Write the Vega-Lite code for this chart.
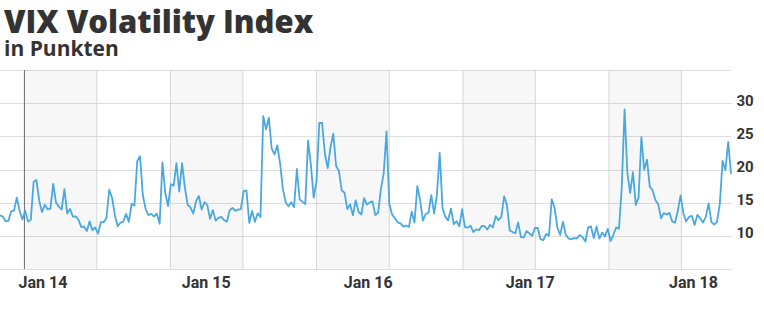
{
  "$schema": "https://vega.github.io/schema/vega-lite/v6.json",
  "width": 731,
  "height": 199,
  "autosize": {"type": "none"},
  "padding": {"left": 0, "top": 70, "right": 33, "bottom": 66},
  "background": "white",
  "config": {"view": {"stroke": null}},
  "title": {
    "text": "VIX Volatility Index",
    "subtitle": "in Punkten",
    "anchor": "start",
    "frame": "group",
    "font": "Open Sans",
    "fontSize": 31,
    "fontWeight": 800,
    "color": "#333333",
    "subtitleFont": "Open Sans",
    "subtitleFontSize": 21,
    "subtitleFontWeight": "bold",
    "subtitleColor": "#333333",
    "subtitlePadding": -1,
    "offset": 9,
    "dx": 4
  },
  "datasets": {
    "bands": [
      {"d": "2014-01-01", "e": "2014-07-01"},
      {"d": "2015-01-01", "e": "2015-07-01"},
      {"d": "2016-01-01", "e": "2016-07-01"},
      {"d": "2017-01-01", "e": "2017-07-01"},
      {"d": "2018-01-01", "e": "2018-07-01"}
    ],
    "vgrid": [
      {"d": "2014-07-01"}, {"d": "2015-01-01"}, {"d": "2015-07-01"},
      {"d": "2016-01-01"}, {"d": "2016-07-01"}, {"d": "2017-01-01"},
      {"d": "2017-07-01"}, {"d": "2018-01-01"}, {"d": "2018-07-01"}
    ],
    "start": [{"d": "2014-01-01"}],
    "vix": [
      {"d": "2013-11-01", "v": 13.09}, {"d": "2013-11-08", "v": 12.90}, {"d": "2013-11-15", "v": 12.19},
      {"d": "2013-11-22", "v": 12.26}, {"d": "2013-11-29", "v": 13.70}, {"d": "2013-12-06", "v": 13.79},
      {"d": "2013-12-13", "v": 15.76}, {"d": "2013-12-20", "v": 13.79}, {"d": "2013-12-27", "v": 12.46},
      {"d": "2014-01-03", "v": 13.76}, {"d": "2014-01-10", "v": 12.14}, {"d": "2014-01-17", "v": 12.44},
      {"d": "2014-01-24", "v": 18.14}, {"d": "2014-01-31", "v": 18.41}, {"d": "2014-02-07", "v": 15.29},
      {"d": "2014-02-14", "v": 13.57}, {"d": "2014-02-21", "v": 14.68}, {"d": "2014-02-28", "v": 14.00},
      {"d": "2014-03-07", "v": 14.11}, {"d": "2014-03-14", "v": 17.82}, {"d": "2014-03-21", "v": 15.00},
      {"d": "2014-03-28", "v": 14.41}, {"d": "2014-04-04", "v": 13.96}, {"d": "2014-04-11", "v": 17.03},
      {"d": "2014-04-18", "v": 13.36}, {"d": "2014-04-25", "v": 14.06}, {"d": "2014-05-02", "v": 12.91},
      {"d": "2014-05-09", "v": 12.92}, {"d": "2014-05-16", "v": 12.44}, {"d": "2014-05-23", "v": 11.36},
      {"d": "2014-05-30", "v": 11.40}, {"d": "2014-06-06", "v": 10.73}, {"d": "2014-06-13", "v": 12.18},
      {"d": "2014-06-20", "v": 10.85}, {"d": "2014-06-27", "v": 11.26}, {"d": "2014-07-04", "v": 10.32},
      {"d": "2014-07-11", "v": 12.08}, {"d": "2014-07-18", "v": 12.06}, {"d": "2014-07-25", "v": 12.69},
      {"d": "2014-08-01", "v": 16.95}, {"d": "2014-08-08", "v": 15.77}, {"d": "2014-08-15", "v": 13.15},
      {"d": "2014-08-22", "v": 11.47}, {"d": "2014-08-29", "v": 11.98}, {"d": "2014-09-05", "v": 12.09},
      {"d": "2014-09-12", "v": 13.31}, {"d": "2014-09-19", "v": 12.11}, {"d": "2014-09-26", "v": 14.85},
      {"d": "2014-10-03", "v": 14.55}, {"d": "2014-10-10", "v": 21.24}, {"d": "2014-10-17", "v": 21.99},
      {"d": "2014-10-24", "v": 16.11}, {"d": "2014-10-31", "v": 14.03}, {"d": "2014-11-07", "v": 13.12},
      {"d": "2014-11-14", "v": 13.31}, {"d": "2014-11-21", "v": 12.90}, {"d": "2014-11-28", "v": 13.33},
      {"d": "2014-12-05", "v": 11.82}, {"d": "2014-12-12", "v": 21.08}, {"d": "2014-12-19", "v": 16.49},
      {"d": "2014-12-26", "v": 14.50}, {"d": "2015-01-02", "v": 17.79}, {"d": "2015-01-09", "v": 17.55},
      {"d": "2015-01-16", "v": 20.95}, {"d": "2015-01-23", "v": 16.66}, {"d": "2015-01-30", "v": 20.97},
      {"d": "2015-02-06", "v": 17.29}, {"d": "2015-02-13", "v": 14.69}, {"d": "2015-02-20", "v": 14.30},
      {"d": "2015-02-27", "v": 13.34}, {"d": "2015-03-06", "v": 15.20}, {"d": "2015-03-13", "v": 16.00},
      {"d": "2015-03-20", "v": 13.97}, {"d": "2015-03-27", "v": 15.07}, {"d": "2015-04-03", "v": 14.67},
      {"d": "2015-04-10", "v": 12.58}, {"d": "2015-04-17", "v": 13.89}, {"d": "2015-04-24", "v": 12.29},
      {"d": "2015-05-01", "v": 12.70}, {"d": "2015-05-08", "v": 12.86}, {"d": "2015-05-15", "v": 12.38},
      {"d": "2015-05-22", "v": 12.13}, {"d": "2015-05-29", "v": 13.84}, {"d": "2015-06-05", "v": 14.21},
      {"d": "2015-06-12", "v": 13.78}, {"d": "2015-06-19", "v": 13.96}, {"d": "2015-06-26", "v": 14.02},
      {"d": "2015-07-03", "v": 16.79}, {"d": "2015-07-10", "v": 16.83}, {"d": "2015-07-17", "v": 11.95},
      {"d": "2015-07-24", "v": 13.74}, {"d": "2015-07-31", "v": 12.12}, {"d": "2015-08-07", "v": 13.39},
      {"d": "2015-08-14", "v": 12.83}, {"d": "2015-08-21", "v": 28.03}, {"d": "2015-08-28", "v": 26.05},
      {"d": "2015-09-04", "v": 27.80}, {"d": "2015-09-11", "v": 23.20}, {"d": "2015-09-18", "v": 22.28},
      {"d": "2015-09-25", "v": 23.62}, {"d": "2015-10-02", "v": 20.94}, {"d": "2015-10-09", "v": 17.08},
      {"d": "2015-10-16", "v": 15.05}, {"d": "2015-10-23", "v": 14.46}, {"d": "2015-10-30", "v": 15.07},
      {"d": "2015-11-06", "v": 14.33}, {"d": "2015-11-13", "v": 20.08}, {"d": "2015-11-20", "v": 15.47},
      {"d": "2015-11-27", "v": 15.12}, {"d": "2015-12-04", "v": 14.81}, {"d": "2015-12-11", "v": 24.39},
      {"d": "2015-12-18", "v": 20.70}, {"d": "2015-12-25", "v": 15.74}, {"d": "2016-01-01", "v": 18.21},
      {"d": "2016-01-08", "v": 27.01}, {"d": "2016-01-15", "v": 27.02}, {"d": "2016-01-22", "v": 22.34},
      {"d": "2016-01-29", "v": 20.20}, {"d": "2016-02-05", "v": 23.38}, {"d": "2016-02-12", "v": 25.40},
      {"d": "2016-02-19", "v": 20.53}, {"d": "2016-02-26", "v": 19.81}, {"d": "2016-03-04", "v": 16.86},
      {"d": "2016-03-11", "v": 16.50}, {"d": "2016-03-18", "v": 14.02}, {"d": "2016-03-25", "v": 14.74},
      {"d": "2016-04-01", "v": 13.10}, {"d": "2016-04-08", "v": 15.36}, {"d": "2016-04-15", "v": 13.62},
      {"d": "2016-04-22", "v": 13.22}, {"d": "2016-04-29", "v": 15.70}, {"d": "2016-05-06", "v": 14.72},
      {"d": "2016-05-13", "v": 15.04}, {"d": "2016-05-20", "v": 15.20}, {"d": "2016-05-27", "v": 13.12},
      {"d": "2016-06-03", "v": 13.47}, {"d": "2016-06-10", "v": 17.03}, {"d": "2016-06-17", "v": 19.41},
      {"d": "2016-06-24", "v": 25.76}, {"d": "2016-07-01", "v": 14.77}, {"d": "2016-07-08", "v": 13.20},
      {"d": "2016-07-15", "v": 12.67}, {"d": "2016-07-22", "v": 12.02}, {"d": "2016-07-29", "v": 11.87},
      {"d": "2016-08-05", "v": 11.39}, {"d": "2016-08-12", "v": 11.55}, {"d": "2016-08-19", "v": 11.34},
      {"d": "2016-08-26", "v": 13.65}, {"d": "2016-09-02", "v": 11.98}, {"d": "2016-09-09", "v": 17.50},
      {"d": "2016-09-16", "v": 15.37}, {"d": "2016-09-23", "v": 12.29}, {"d": "2016-09-30", "v": 13.29},
      {"d": "2016-10-07", "v": 13.48}, {"d": "2016-10-14", "v": 16.12}, {"d": "2016-10-21", "v": 13.34},
      {"d": "2016-10-28", "v": 16.19}, {"d": "2016-11-04", "v": 22.51}, {"d": "2016-11-11", "v": 14.17},
      {"d": "2016-11-18", "v": 12.85}, {"d": "2016-11-25", "v": 12.34}, {"d": "2016-12-02", "v": 14.12},
      {"d": "2016-12-09", "v": 11.75}, {"d": "2016-12-16", "v": 12.20}, {"d": "2016-12-23", "v": 11.44},
      {"d": "2016-12-30", "v": 14.04}, {"d": "2017-01-06", "v": 11.32}, {"d": "2017-01-13", "v": 11.23},
      {"d": "2017-01-20", "v": 11.54}, {"d": "2017-01-27", "v": 10.58}, {"d": "2017-02-03", "v": 10.97},
      {"d": "2017-02-10", "v": 10.85}, {"d": "2017-02-17", "v": 11.49}, {"d": "2017-02-24", "v": 11.47},
      {"d": "2017-03-03", "v": 10.96}, {"d": "2017-03-10", "v": 11.66}, {"d": "2017-03-17", "v": 11.28},
      {"d": "2017-03-24", "v": 12.96}, {"d": "2017-03-31", "v": 12.37}, {"d": "2017-04-07", "v": 12.87},
      {"d": "2017-04-14", "v": 15.96}, {"d": "2017-04-21", "v": 14.63}, {"d": "2017-04-28", "v": 10.82},
      {"d": "2017-05-05", "v": 10.57}, {"d": "2017-05-12", "v": 10.40}, {"d": "2017-05-19", "v": 12.04},
      {"d": "2017-05-26", "v": 9.81}, {"d": "2017-06-02", "v": 9.75}, {"d": "2017-06-09", "v": 10.70},
      {"d": "2017-06-16", "v": 10.38}, {"d": "2017-06-23", "v": 10.02}, {"d": "2017-06-30", "v": 11.18},
      {"d": "2017-07-07", "v": 11.19}, {"d": "2017-07-14", "v": 9.51}, {"d": "2017-07-21", "v": 9.36},
      {"d": "2017-07-28", "v": 10.29}, {"d": "2017-08-04", "v": 10.03}, {"d": "2017-08-11", "v": 15.51},
      {"d": "2017-08-18", "v": 14.26}, {"d": "2017-08-25", "v": 11.28}, {"d": "2017-09-01", "v": 10.13},
      {"d": "2017-09-08", "v": 12.12}, {"d": "2017-09-15", "v": 10.17}, {"d": "2017-09-22", "v": 9.59},
      {"d": "2017-09-29", "v": 9.51}, {"d": "2017-10-06", "v": 9.65}, {"d": "2017-10-13", "v": 9.61},
      {"d": "2017-10-20", "v": 10.15}, {"d": "2017-10-27", "v": 9.80}, {"d": "2017-11-03", "v": 9.14},
      {"d": "2017-11-10", "v": 11.29}, {"d": "2017-11-17", "v": 11.43}, {"d": "2017-11-24", "v": 9.67},
      {"d": "2017-12-01", "v": 11.43}, {"d": "2017-12-08", "v": 9.58}, {"d": "2017-12-15", "v": 10.49},
      {"d": "2017-12-22", "v": 9.90}, {"d": "2017-12-29", "v": 11.04}, {"d": "2018-01-05", "v": 9.22},
      {"d": "2018-01-12", "v": 10.16}, {"d": "2018-01-19", "v": 11.27}, {"d": "2018-01-26", "v": 11.08},
      {"d": "2018-02-02", "v": 17.31}, {"d": "2018-02-09", "v": 29.06}, {"d": "2018-02-16", "v": 19.46},
      {"d": "2018-02-23", "v": 16.49}, {"d": "2018-03-02", "v": 19.59}, {"d": "2018-03-09", "v": 14.64},
      {"d": "2018-03-16", "v": 15.80}, {"d": "2018-03-23", "v": 24.87}, {"d": "2018-03-30", "v": 19.97},
      {"d": "2018-04-06", "v": 21.49}, {"d": "2018-04-13", "v": 17.41}, {"d": "2018-04-20", "v": 16.88},
      {"d": "2018-04-27", "v": 15.41}, {"d": "2018-05-04", "v": 14.77}, {"d": "2018-05-11", "v": 12.65},
      {"d": "2018-05-18", "v": 13.42}, {"d": "2018-05-25", "v": 13.22}, {"d": "2018-06-01", "v": 13.46},
      {"d": "2018-06-08", "v": 12.18}, {"d": "2018-06-15", "v": 11.98}, {"d": "2018-06-22", "v": 13.77},
      {"d": "2018-06-29", "v": 16.09}, {"d": "2018-07-06", "v": 13.37}, {"d": "2018-07-13", "v": 12.18},
      {"d": "2018-07-20", "v": 12.86}, {"d": "2018-07-27", "v": 13.03}, {"d": "2018-08-03", "v": 11.64},
      {"d": "2018-08-10", "v": 13.16}, {"d": "2018-08-17", "v": 12.64}, {"d": "2018-08-24", "v": 11.99},
      {"d": "2018-08-31", "v": 12.86}, {"d": "2018-09-07", "v": 14.88}, {"d": "2018-09-14", "v": 12.07},
      {"d": "2018-09-21", "v": 11.68}, {"d": "2018-09-28", "v": 12.12}, {"d": "2018-10-05", "v": 14.82},
      {"d": "2018-10-12", "v": 21.31}, {"d": "2018-10-19", "v": 19.89}, {"d": "2018-10-26", "v": 24.16},
      {"d": "2018-11-02", "v": 19.34}
    ]
  },
  "encoding": {
    "x": {
      "field": "d",
      "type": "temporal",
      "title": null,
      "scale": {
        "type": "utc",
        "domain": [
          {"year": 2013, "month": 11, "date": 1, "utc": true},
          {"year": 2018, "month": 11, "date": 2, "utc": true}
        ]
      },
      "axis": {
        "values": [
          {"year": 2014, "month": 2, "date": 15, "utc": true},
          {"year": 2015, "month": 3, "date": 30, "utc": true},
          {"year": 2016, "month": 5, "date": 8, "utc": true},
          {"year": 2017, "month": 6, "date": 17, "utc": true},
          {"year": 2018, "month": 7, "date": 30, "utc": true}
        ],
        "labelExpr": "'Jan ' + utcFormat(datum.value, '%y')",
        "grid": false,
        "ticks": false,
        "domain": false,
        "labelFont": "Roboto",
        "labelFontSize": 16,
        "labelFontWeight": "bold",
        "labelColor": "#333333",
        "labelPadding": 5,
        "labelFlush": false,
        "labelOverlap": false
      }
    }
  },
  "layer": [
    {
      "data": {"name": "bands"},
      "mark": {"type": "rect", "color": "#000000", "opacity": 0.033},
      "encoding": {
        "x2": {"field": "e"}
      }
    },
    {
      "data": {"name": "vgrid"},
      "mark": {"type": "rule", "color": "#d6d6d6", "strokeWidth": 1},
      "encoding": {}
    },
    {
      "data": {"name": "start"},
      "mark": {"type": "rule", "color": "#6a6a6a", "strokeWidth": 1},
      "encoding": {}
    },
    {
      "data": {"name": "vix"},
      "mark": {"type": "line", "color": "#4aa8e0", "strokeWidth": 1.8, "strokeJoin": "round"},
      "encoding": {
        "y": {
          "field": "v",
          "type": "quantitative",
          "title": null,
          "scale": {"domain": [5, 35], "nice": false, "zero": false},
          "axis": {
            "orient": "right",
            "values": [5, 10, 15, 20, 25, 30, 35],
            "labelExpr": "datum.value >= 10 && datum.value <= 30 ? datum.label : ''",
            "grid": true,
            "gridColor": "#dedede",
            "gridWidth": 1,
            "ticks": false,
            "domain": false,
            "labelFont": "Roboto",
            "labelFontSize": 15,
            "labelFontWeight": "bold",
            "labelColor": "#333333",
            "labelPadding": 5,
            "labelOffset": -3
          }
        }
      }
    }
  ]
}
